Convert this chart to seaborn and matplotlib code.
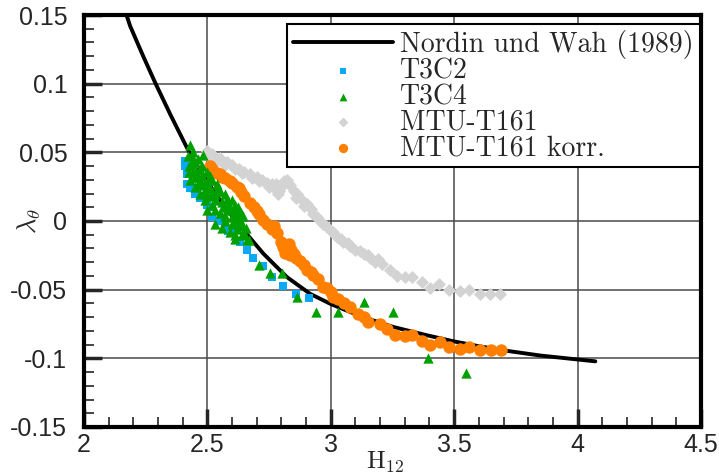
import numpy as np
import pandas as pd
import matplotlib
matplotlib.use("Agg")
import matplotlib.pyplot as plt
import seaborn as sns

# ---------------- data ----------------
curve_h = [2.165, 2.187, 2.24, 2.288, 2.35, 2.4165, 2.46, 2.5, 2.55, 2.6, 2.6456, 2.727, 2.822,
           2.916, 2.997, 3.079, 3.16, 3.254, 3.389, 3.497, 3.6, 3.7, 3.85, 3.998, 4.072]
curve_l = [0.154, 0.142, 0.120, 0.1009, 0.0775, 0.0536, 0.040, 0.0285, 0.0155, 0.0035, -0.0065,
           -0.0238, -0.0408, -0.0530, -0.0602, -0.0663, -0.0717, -0.0772, -0.0832, -0.0876,
           -0.0912, -0.0942, -0.0980, -0.1008, -0.1022]

t3c2_h = [2.41, 2.41, 2.417, 2.417, 2.43, 2.45, 2.47, 2.484, 2.50, 2.518, 2.52, 2.55, 2.572,
          2.585, 2.60, 2.633, 2.66, 2.686, 2.727, 2.761, 2.805, 2.858, 2.912]
t3c2_l = [0.044, 0.040, 0.034, 0.027, 0.024, 0.020, 0.017, 0.0185, 0.012, 0.010, 0.003, 0.0,
          -0.003, -0.007, -0.009, -0.015, -0.021, -0.027, -0.033, -0.041, -0.047, -0.053, -0.056]

t3c4_h = [2.43, 2.484, 2.42, 2.44, 2.425, 2.45, 2.47, 2.44, 2.46, 2.48, 2.43, 2.50, 2.49, 2.45,
          2.52, 2.51, 2.47, 2.54, 2.53, 2.49, 2.55, 2.57, 2.56, 2.52, 2.50, 2.58, 2.60, 2.59,
          2.61, 2.62, 2.55, 2.57, 2.60, 2.63, 2.64, 2.53, 2.56, 2.59, 2.62, 2.65, 2.61, 2.64,
          2.66, 2.613, 2.643, 2.670, 2.71, 2.754, 2.801, 2.862, 2.94, 3.03, 3.135, 3.254,
          3.392, 3.549,
          2.425, 2.435, 2.455, 2.465, 2.475, 2.495, 2.505, 2.515, 2.535, 2.545, 2.565, 2.585,
          2.605, 2.625, 2.645, 2.44, 2.46, 2.48, 2.51, 2.54, 2.58, 2.62, 2.63, 2.50, 2.47,
          2.45, 2.49, 2.53, 2.57, 2.60, 2.635, 2.655]
t3c4_l = [0.055, 0.048, 0.047, 0.045, 0.040, 0.042, 0.038, 0.035, 0.032, 0.033, 0.030, 0.036,
          0.028, 0.025, 0.030, 0.024, 0.020, 0.027, 0.020, 0.015, 0.022, 0.020, 0.014, 0.012,
          0.008, 0.016, 0.015, 0.010, 0.012, 0.006, 0.006, 0.004, 0.003, 0.002, -0.002, -0.002,
          -0.005, -0.008, -0.006, -0.009, -0.013, -0.010, -0.014, -0.0105, -0.009, -0.014,
          -0.032, -0.038, -0.038, -0.055, -0.066, -0.066, -0.059, -0.066, -0.100, -0.111,
          0.036, 0.041, 0.036, 0.028, 0.026, 0.024, 0.030, 0.018, 0.015, 0.024, 0.010, 0.012,
          0.008, 0.010, 0.004, 0.050, 0.045, 0.040, 0.033, 0.022, 0.008, 0.000, -0.004, 0.019,
          0.030, 0.032, 0.022, 0.008, 0.000, -0.002, 0.006, -0.005]

mtu_h = [2.497, 2.52, 2.55, 2.578, 2.60, 2.63, 2.65, 2.673, 2.70, 2.72, 2.74, 2.76, 2.78, 2.787,
         2.80, 2.81, 2.822, 2.835, 2.849, 2.862, 2.88, 2.903, 2.92, 2.943, 2.958, 2.98, 3.0,
         3.025, 3.05, 3.079, 3.10, 3.133, 3.16, 3.18, 3.207, 3.238, 3.27, 3.30, 3.33, 3.368,
         3.404, 3.44, 3.481, 3.522, 3.562, 3.603, 3.646, 3.687,
         2.51, 2.54, 2.57, 2.61, 2.64, 2.68, 2.71, 2.75, 2.77, 2.79, 2.83, 2.86, 2.89, 2.93,
         2.97, 3.01, 3.04, 3.07, 3.12, 3.15, 3.19]
mtu_l = [0.051, 0.049, 0.046, 0.043, 0.041, 0.038, 0.036, 0.034, 0.032, 0.030, 0.028, 0.027,
         0.027, 0.020, 0.025, 0.029, 0.030, 0.026, 0.022, 0.020, 0.016, 0.0125, 0.009, 0.003,
         0.000, -0.004, -0.007, -0.012, -0.015, -0.018, -0.021, -0.024, -0.027, -0.030, -0.031,
         -0.0355, -0.040, -0.041, -0.041, -0.0445, -0.0485, -0.046, -0.050, -0.051, -0.0505,
         -0.053, -0.053, -0.053,
         0.046, 0.044, 0.041, 0.038, 0.035, 0.031, 0.029, 0.025, 0.024, 0.022, 0.027, 0.017,
         0.011, 0.005, -0.002, -0.008, -0.013, -0.016, -0.022, -0.025, -0.028]

korr_h = [2.51, 2.52, 2.54, 2.551, 2.57, 2.59, 2.60, 2.619, 2.635, 2.65, 2.673, 2.69, 2.71,
          2.727, 2.74, 2.76, 2.781, 2.80, 2.808, 2.822, 2.835, 2.85, 2.86, 2.876, 2.89, 2.903,
          2.92, 2.93, 2.95, 2.97, 2.984, 3.0, 3.011, 3.03, 3.052, 3.079, 3.11, 3.133, 3.151,
          3.199, 3.226, 3.26, 3.30, 3.33, 3.368, 3.404, 3.442, 3.481, 3.522, 3.562, 3.605,
          3.649, 3.69, 2.815, 2.84, 2.83, 2.77, 2.70, 2.63, 2.56]
korr_l = [0.040, 0.038, 0.035, 0.034, 0.031, 0.029, 0.028, 0.025, 0.021, 0.018, 0.013, 0.010,
          0.005, 0.001, -0.002, -0.006, -0.009, -0.015, -0.019, -0.020, -0.025, -0.024, -0.027,
          -0.029, -0.032, -0.036, -0.037, -0.039, -0.042, -0.048, -0.049, -0.052, -0.0555,
          -0.057, -0.060, -0.0626, -0.0674, -0.070, -0.0735, -0.0747, -0.0783, -0.0827,
          -0.0839, -0.0832, -0.0873, -0.0905, -0.088, -0.0917, -0.0929, -0.0917, -0.0941,
          -0.0941, -0.0941, -0.023, -0.021, -0.017, -0.004, 0.007, 0.024, 0.032]

x_ticks = [2, 2.5, 3, 3.5, 4, 4.5]
x_labels = ["2", "2.5", "3", "3.5", "4", "4.5"]
y_ticks = [-0.15, -0.1, -0.05, 0, 0.05, 0.1, 0.15]
y_labels = ["-0.15", "-0.1", "-0.05", "0", "0.05", "0.1", "0.15"]

names = ["Nordin und Wah (1989)", "T3C2", "T3C4", "MTU-T161", "MTU-T161 korr."]

# ---------------- plot ----------------
sns.set_style("white")
plt.rcParams["mathtext.fontset"] = "cm"

fig = plt.figure(figsize=(7.19, 4.75), dpi=100)
ax = fig.add_axes([0.1168, 0.1011, 0.8581, 0.8673])

ax.grid(True, which="major", color="#4a4a4a", linewidth=1.1, zorder=0)
ax.set_axisbelow(True)

df_c = pd.DataFrame({"H": curve_h, "L": curve_l})
sns.lineplot(data=df_c, x="H", y="L", ax=ax, color="black", linewidth=2.8, sort=True,
             zorder=2, label=names[0])

sns.scatterplot(x=t3c2_h, y=t3c2_l, ax=ax, marker="s", s=38, color="#0AA8F5",
                linewidth=0, zorder=3, label=names[1])
sns.scatterplot(x=t3c4_h, y=t3c4_l, ax=ax, marker="^", s=55, color="#00A000",
                linewidth=0, zorder=4, label=names[2])
sns.scatterplot(x=mtu_h, y=mtu_l, ax=ax, marker="D", s=44, color="#D3D3D3",
                linewidth=0, zorder=3, label=names[3])
sns.scatterplot(x=korr_h, y=korr_l, ax=ax, marker="o", s=80, color="#FF8000",
                linewidth=0, zorder=3, label=names[4])

ax.set_xlim(2, 4.5)
ax.set_ylim(-0.15, 0.15)
ax.set_xticks(x_ticks)
ax.set_xticklabels(x_labels)
ax.set_yticks(y_ticks)
ax.set_yticklabels(y_labels)
ax.set_xticks(np.arange(2.0, 4.5001, 0.1), minor=True)
ax.set_yticks(np.arange(-0.15, 0.15001, 0.01), minor=True)

for sp in ax.spines.values():
    sp.set_color("black")
    sp.set_linewidth(3)

ax.tick_params(axis="both", which="major", direction="in", length=13, width=2.5,
               labelsize=18, top=False, right=False, bottom=True, left=True)
ax.tick_params(axis="x", which="major", pad=4)
ax.tick_params(axis="y", which="major", pad=12)
ax.tick_params(axis="both", which="minor", direction="in", length=7, width=1.2,
               top=False, right=False, bottom=True, left=True)
for lab in ax.get_xticklabels() + ax.get_yticklabels():
    lab.set_fontfamily("Liberation Sans")

ax.set_xlabel(r"$\mathrm{H}_{12}$", fontsize=18)
ax.set_ylabel(r"$\lambda_\theta$", fontsize=19)
ax.xaxis.set_label_coords(0.488, -0.055)
ax.yaxis.set_label_coords(-0.066, 0.5)

leg = ax.legend(loc="upper right", bbox_to_anchor=(0.998, 0.978), frameon=True,
                fancybox=False, prop={"family": "cmr10", "size": 20},
                handlelength=3.6, handletextpad=0.25, labelspacing=-0.03,
                borderpad=0.22, borderaxespad=0.0, markerscale=0.75)
leg.get_frame().set_edgecolor("black")
leg.get_frame().set_linewidth(1.5)
leg.get_frame().set_alpha(1)

fig.savefig("out.png", dpi=100)
